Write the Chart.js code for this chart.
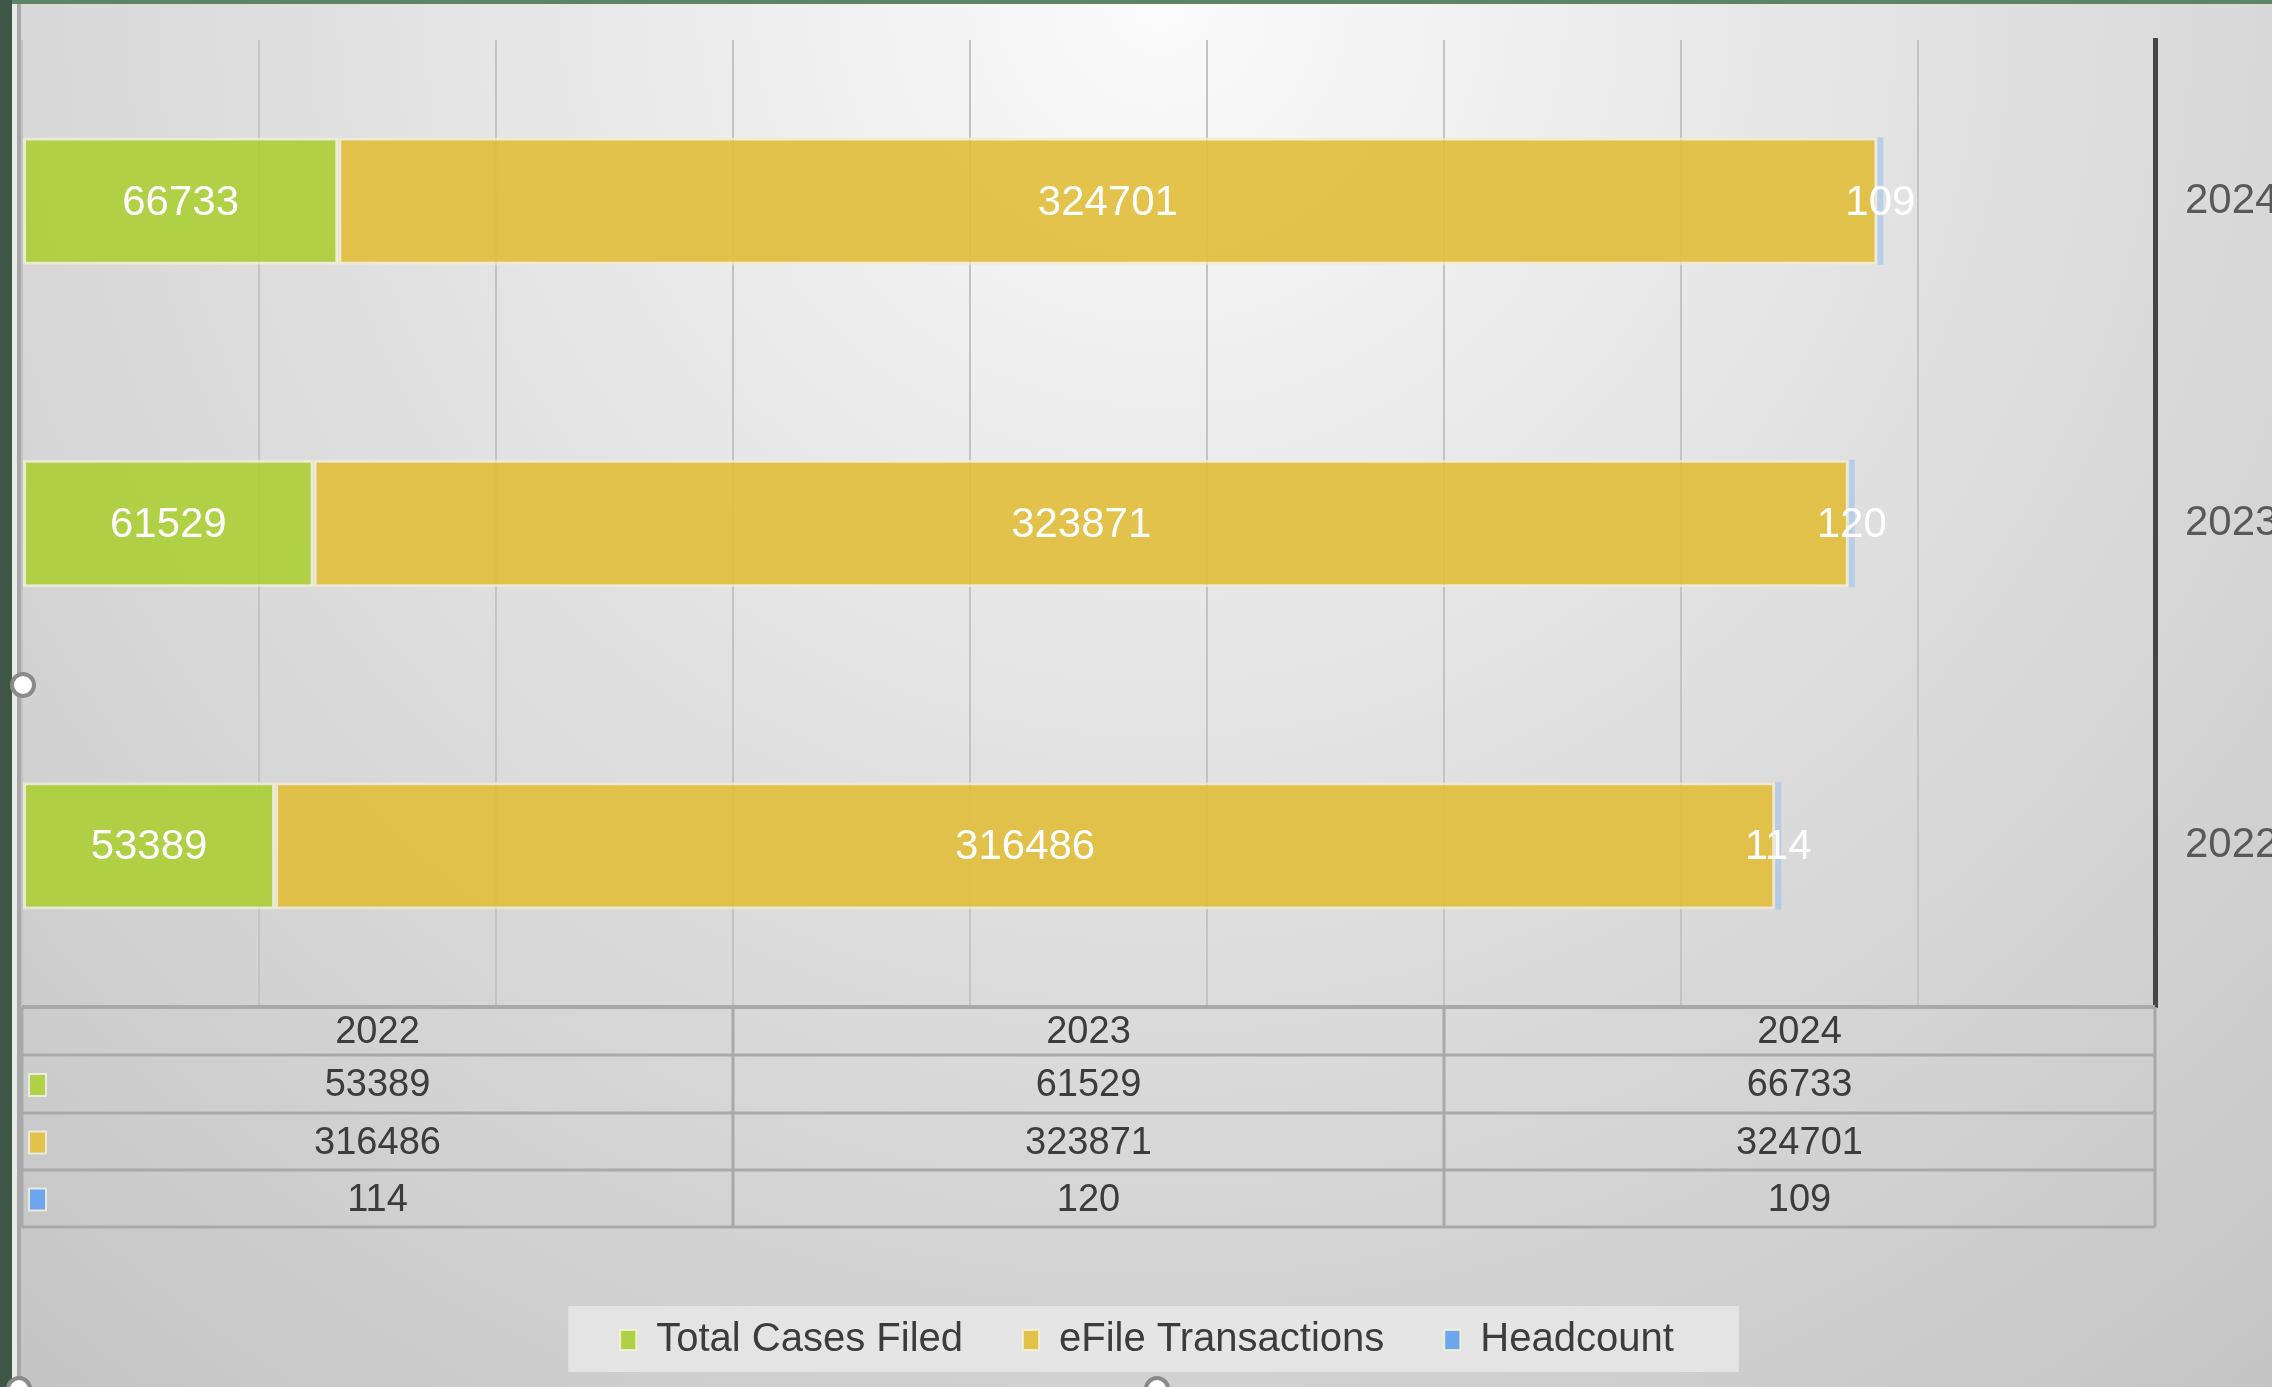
<!DOCTYPE html>
<html>
<head>
<meta charset="utf-8">
<script src="https://cdn.jsdelivr.net/npm/chart.js@4.4.1/dist/chart.umd.min.js"></script>
<style>
  html, body { margin: 0; padding: 0; overflow: hidden; background: #d0d0d0; }
  #wrap { position: relative; width: 2272px; height: 1387px; }
  #chart { position: absolute; left: 0; top: 0; }
  .deco { position: absolute; }
  .handle { position: absolute; width: 18px; height: 18px; border-radius: 50%; background: #fff; border: 4px solid #8a8a8a; }
</style>
</head>
<body>
<div id="wrap">
  <canvas id="chart" width="2272" height="1387"></canvas>
  <div class="deco" style="left:0;top:0;width:2272px;height:4px;background:#5e8468"></div>
  <div class="deco" style="left:0;top:0;width:12px;height:1387px;background:#3d5646"></div>
  <div class="deco" style="left:12px;top:4px;width:5px;height:1383px;background:#e6eae8"></div>
  <div class="deco" style="left:17px;top:4px;width:4px;height:1383px;background:#a8a8a8"></div>
  <div class="handle" style="left:10px;top:672px"></div>
  <div class="handle" style="left:1144px;top:1376px"></div>
  <div class="handle" style="left:6px;top:1376px"></div>
</div>
<script>
const years = ['2022', '2023', '2024'];
const totalCasesFiled = [53389, 61529, 66733];
const eFileTransactions = [316486, 323871, 324701];
const headcount = [114, 120, 109];

const seriesNames = ['Total Cases Filed', 'eFile Transactions', 'Headcount'];
const seriesColors = ['rgba(172,208,58,0.93)', 'rgba(226,190,62,0.93)', '#6ea6ee'];
const FONT = '"Liberation Sans", Arial, sans-serif';

const ctx = document.getElementById('chart').getContext('2d');

// background + legend panel
const backdrop = {
    id: 'backdrop',
    beforeDraw(chart) {
        const c = chart.ctx;
        const g = c.createRadialGradient(1160, 0, 0, 1160, 0, 1800);
        g.addColorStop(0, '#fbfbfb');
        g.addColorStop(0.17, '#f1f1f1');
        g.addColorStop(0.45, '#e1e1e1');
        g.addColorStop(0.72, '#d3d3d3');
        g.addColorStop(1, '#c4c4c4');
        c.save();
        c.fillStyle = g;
        c.fillRect(0, 0, chart.width, chart.height);

        const boxes = chart.legend.legendHitBoxes;
        if (boxes && boxes.length) {
            const first = boxes[0], last = boxes[boxes.length - 1];
            c.fillStyle = 'rgba(235,235,235,0.75)';
            c.fillRect(first.left - 52, first.top - 14, last.left + last.width - first.left + 117, 66);
        }
        c.restore();
    }
};

// white value labels in the bar segments
const barLabels = {
    id: 'barLabels',
    afterDatasetsDraw(chart) {
        const c = chart.ctx;
        c.save();
        c.fillStyle = '#ffffff';
        c.font = '42px ' + FONT;
        c.textAlign = 'center';
        c.textBaseline = 'middle';
        chart.data.datasets.forEach((ds, i) => {
            chart.getDatasetMeta(i).data.forEach((bar, j) => {
                const p = bar.getCenterPoint();
                c.fillText(String(ds.data[j]), p.x, p.y + 2);
            });
        });
        c.restore();
    }
};

// Excel style data table under the plot
const dataTable = {
    id: 'dataTable',
    afterDraw(chart) {
        const c = chart.ctx;
        const a = chart.chartArea;
        const colW = (a.right - a.left) / years.length;
        const lines = [a.bottom, a.bottom + 48, a.bottom + 106, a.bottom + 163, a.bottom + 220];
        const rows = [years, totalCasesFiled, eFileTransactions, headcount];

        c.save();
        c.strokeStyle = '#a9a9a9';
        lines.forEach((y, i) => {
            c.lineWidth = i === 0 ? 4 : 3;
            c.beginPath();
            c.moveTo(a.left, y);
            c.lineTo(a.right, y);
            c.stroke();
        });
        c.lineWidth = 3;
        for (let k = 0; k <= years.length; k++) {
            const x = a.left + k * colW;
            c.beginPath();
            c.moveTo(x, a.bottom);
            c.lineTo(x, lines[lines.length - 1]);
            c.stroke();
        }

        c.fillStyle = '#3c3c3c';
        c.font = '38px ' + FONT;
        c.textAlign = 'center';
        c.textBaseline = 'middle';
        rows.forEach((vals, r) => {
            const cy = (lines[r] + lines[r + 1]) / 2 + 2;
            vals.forEach((v, k) => {
                c.fillText(String(v), a.left + (k + 0.5) * colW, cy);
            });
            if (r > 0) {
                c.fillStyle = 'rgba(255,255,240,0.6)';
                c.fillRect(a.left + 6, cy - 13, 19, 24);
                c.fillStyle = seriesColors[r - 1];
                c.fillRect(a.left + 8, cy - 11, 15, 20);
                c.fillStyle = '#3c3c3c';
            }
        });
        c.restore();
    }
};

new Chart(ctx, {
    type: 'bar',
    data: {
        labels: years,
        datasets: [{
            label: seriesNames[0],
            data: totalCasesFiled,
            backgroundColor: seriesColors[0],
            borderColor: 'rgba(240,242,205,0.75)',
            borderWidth: 3,
            borderSkipped: false
        }, {
            label: seriesNames[1],
            data: eFileTransactions,
            backgroundColor: seriesColors[1],
            borderColor: 'rgba(244,236,205,0.75)',
            borderWidth: 3,
            borderSkipped: false
        }, {
            label: seriesNames[2],
            data: headcount,
            backgroundColor: 'rgba(150,190,240,0.55)',
            borderWidth: 0,
            minBarLength: 6
        }]
    },
    options: {
        indexAxis: 'y',
        responsive: false,
        animation: false,
        barPercentage: 0.395,
        categoryPercentage: 1,
        layout: {
            padding: { left: 22, top: 40, right: 0, bottom: 17 }
        },
        plugins: {
            tooltip: { enabled: false },
            legend: {
                position: 'bottom',
                labels: {
                    boxWidth: 16,
                    boxHeight: 20,
                    padding: 60,
                    color: '#3c3c3c',
                    font: { family: FONT, size: 40 },
                    generateLabels(chart) {
                        const items = Chart.defaults.plugins.legend.labels.generateLabels(chart);
                        items.forEach((it, i) => {
                            it.fillStyle = seriesColors[i];
                            it.strokeStyle = 'rgba(245,245,215,0.8)';
                            it.lineWidth = 2;
                        });
                        return items;
                    }
                }
            }
        },
        scales: {
            x: {
                stacked: true,
                min: 0,
                max: 450000,
                ticks: { display: false, stepSize: 50000 },
                grid: { color: '#c3c3c3', lineWidth: 2, drawTicks: false },
                border: { display: false },
                afterFit(s) { s.height = 253; }
            },
            y: {
                stacked: true,
                position: 'right',
                reverse: true,
                grid: { color: 'rgba(0,0,0,0)', drawTicks: true, tickLength: 30 },
                border: { display: true, color: '#454545', width: 5 },
                ticks: { color: '#595959', padding: 0, font: { family: FONT, size: 42 } },
                afterFit(s) { s.width = 117; }
            }
        }
    },
    plugins: [backdrop, barLabels, dataTable]
});
</script>
</body>
</html>
